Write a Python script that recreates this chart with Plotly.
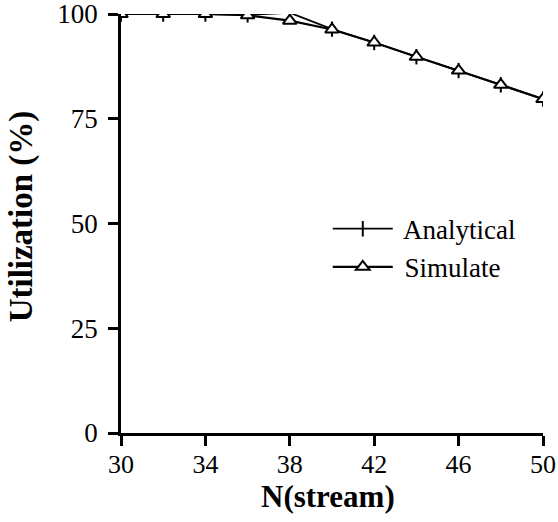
import plotly.graph_objects as go

n_stream = [30, 32, 34, 36, 38, 40, 42, 44, 46, 48, 50]
analytical = [100, 100, 100, 99.8, 100.3, 96.4, 93.2, 89.8, 86.5, 83.1, 79.7]
simulate = [100, 100, 100, 99.7, 98.4, 96.3, 93.2, 89.8, 86.5, 83.1, 79.7]

x_ticks = [30, 34, 38, 42, 46, 50]
y_ticks = [0, 25, 50, 75, 100]

FONT = "Liberation Serif"

fig = go.Figure()
fig.add_trace(go.Scatter(
    x=n_stream, y=analytical, name=" Analytical", mode="lines+markers",
    line=dict(color="black", width=1.8),
    marker=dict(symbol="line-ns", size=11, color="black",
                line=dict(color="black", width=2)),
))
fig.add_trace(go.Scatter(
    x=n_stream, y=simulate, name=" Simulate", mode="lines+markers",
    line=dict(color="black", width=2.2),
    marker=dict(symbol="triangle-up", size=12, color="white",
                line=dict(color="black", width=2)),
))

fig.update_layout(
    width=558, height=522,
    margin=dict(l=121, r=15, t=14, b=89),
    paper_bgcolor="white", plot_bgcolor="white",
    font=dict(family=FONT, color="black", size=27),
    showlegend=True,
    legend=dict(x=0.49, y=0.545, xanchor="left", yanchor="top",
                bgcolor="rgba(0,0,0,0)", itemwidth=60,
                font=dict(family=FONT, size=27), tracegroupgap=0),
    xaxis=dict(
        range=[30, 50], tickvals=x_ticks, ticktext=[str(v) for v in x_ticks],
        showgrid=False, zeroline=False, showline=True, linecolor="black",
        linewidth=2.5, ticks="outside", ticklen=10, tickwidth=2.5,
        tickcolor="black", tickfont=dict(family=FONT, size=26),
        automargin=False, ticklabeloverflow="allow", ticklabelstandoff=-4,
    ),
    yaxis=dict(
        range=[0, 100], tickvals=y_ticks, ticktext=[str(v) for v in y_ticks],
        showgrid=False, zeroline=False, showline=True, linecolor="black",
        linewidth=2.5, ticks="outside", ticklen=10, tickwidth=2.5,
        tickcolor="black", tickfont=dict(family=FONT, size=27),
        automargin=False, ticklabeloverflow="allow", ticklabelstandoff=5,
    ),
    annotations=[
        dict(text="<b>N(stream)</b>", xref="paper", yref="paper",
             x=0.4905, y=-0.152, xanchor="center", yanchor="middle",
             showarrow=False, font=dict(family=FONT, size=31)),
        dict(text="<b>Utilization (%)</b>", xref="paper", yref="paper",
             x=-0.237, y=0.517, xanchor="center", yanchor="middle",
             textangle=-90, showarrow=False, font=dict(family=FONT, size=33)),
    ],
)

fig.write_html("out.html")
